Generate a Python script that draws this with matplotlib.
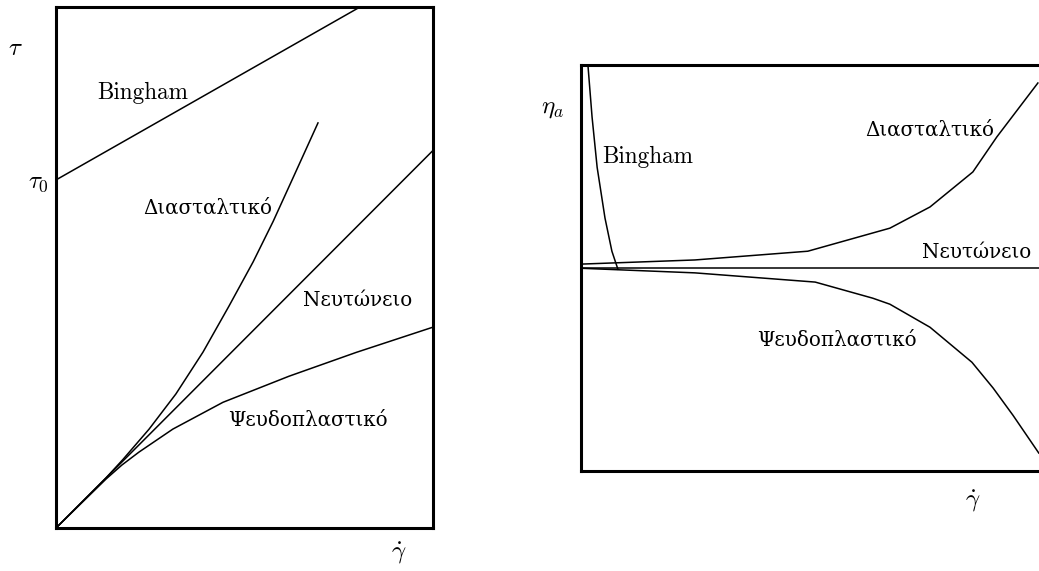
import numpy as np
import matplotlib.pyplot as plt

plt.rcParams['mathtext.fontset'] = 'cm'

# shear stress vs shear rate (tau vs gamma-dot)
newton_g = [0, 10]
newton_t = [0, 10]
bingham_g = [0, 10]
bingham_t = [9.22, 14.9]
dilat_g = [0, 1.33, 1.78, 2.47, 3.18, 3.90, 4.59, 5.23, 5.76, 6.29, 6.95]
dilat_t = [0, 1.33, 1.82, 2.62, 3.55, 4.66, 5.88, 7.05, 8.12, 9.28, 10.73]
pseudo_g = [0, 1.33, 1.75, 2.20, 3.10, 4.43, 6.18, 7.96, 10]
pseudo_t = [0, 1.30, 1.67, 2.01, 2.62, 3.33, 4.02, 4.65, 5.32]

# apparent viscosity vs shear rate
eta_newton_g = [0, 10]
eta_newton = [4.40, 4.40]
eta_dilat_g = [0, 2.47, 4.92, 6.70, 7.57, 8.50, 9.02, 9.91]
eta_dilat = [4.49, 4.58, 4.77, 5.27, 5.73, 6.49, 7.25, 8.42]
eta_pseudo_g = [0, 2.47, 5.08, 6.33, 6.70, 7.57, 8.48, 8.94, 9.37, 9.93]
eta_pseudo = [4.40, 4.30, 4.10, 3.75, 3.62, 3.12, 2.36, 1.80, 1.21, 0.39]
eta_bingham_g = [0.12, 0.15, 0.24, 0.35, 0.52, 0.67, 0.80]
eta_bingham = [9.2, 8.81, 7.68, 6.59, 5.49, 4.77, 4.38]

greek = 'DejaVu Serif'
gsize = 14.3
lw = 1.1

fig = plt.figure(figsize=(10.39, 5.71), dpi=100)

# --- left: flow curves
ax1 = fig.add_axes([0.0539, 0.0753, 0.3628, 0.9124])
ax1.plot(bingham_g, bingham_t, 'k', lw=lw)
ax1.plot(newton_g, newton_t, 'k', lw=lw)
ax1.plot(dilat_g, dilat_t, 'k', lw=lw)
ax1.plot(pseudo_g, pseudo_t, 'k', lw=lw)
ax1.set_xlim(0, 10)
ax1.set_ylim(0, 13.8)
ax1.set_xticks([])
ax1.set_yticks([])
for s in ax1.spines.values():
    s.set_linewidth(2.2)

ax1.text(1.09, 11.52, 'Bingham', family='cmr10', fontsize=16.7, va='center')
ax1.text(2.31, 8.48, 'Διασταλτικό', family=greek, fontsize=gsize, va='center')
ax1.text(6.55, 6.04, 'Νευτώνειο', family=greek, fontsize=gsize, va='center')
ax1.text(4.56, 2.86, 'Ψευδοπλαστικό', family=greek, fontsize=gsize, va='center')

fig.text(15/1039, 1 - 48/571, r'$\tau$', fontsize=18, ha='center', va='center')
fig.text(49/1039, 1 - 182/571, r'$\tau_0$', fontsize=18, ha='right', va='center')
fig.text(399/1039, 1 - 553/571, r'$\dot{\gamma}$', fontsize=18, ha='center', va='center')

# --- right: apparent viscosity
ax2 = fig.add_axes([0.5592, 0.1751, 0.4437, 0.7110])
ax2.plot(eta_newton_g, eta_newton, 'k', lw=lw)
ax2.plot(eta_dilat_g, eta_dilat, 'k', lw=lw)
ax2.plot(eta_pseudo_g, eta_pseudo, 'k', lw=lw)
ax2.plot(eta_bingham_g, eta_bingham, 'k', lw=lw)
ax2.set_xlim(0, 10)
ax2.set_ylim(0, 8.81)
ax2.set_xticks([])
ax2.set_yticks([])
for s in ax2.spines.values():
    s.set_linewidth(2.2)

ax2.text(0.46, 6.81, 'Bingham', family='cmr10', fontsize=16.7, va='center')
ax2.text(6.16, 7.40, 'Διασταλτικό', family=greek, fontsize=gsize, va='center')
ax2.text(7.40, 4.75, 'Νευτώνειο', family=greek, fontsize=gsize, va='center')
ax2.text(3.82, 2.84, 'Ψευδοπλαστικό', family=greek, fontsize=gsize, va='center')

fig.text(553/1039, 1 - 108/571, r'$\eta_a$', fontsize=18, ha='center', va='center')
fig.text(973/1039, 1 - 501/571, r'$\dot{\gamma}$', fontsize=18, ha='center', va='center')

fig.savefig('out.png', dpi=100)
